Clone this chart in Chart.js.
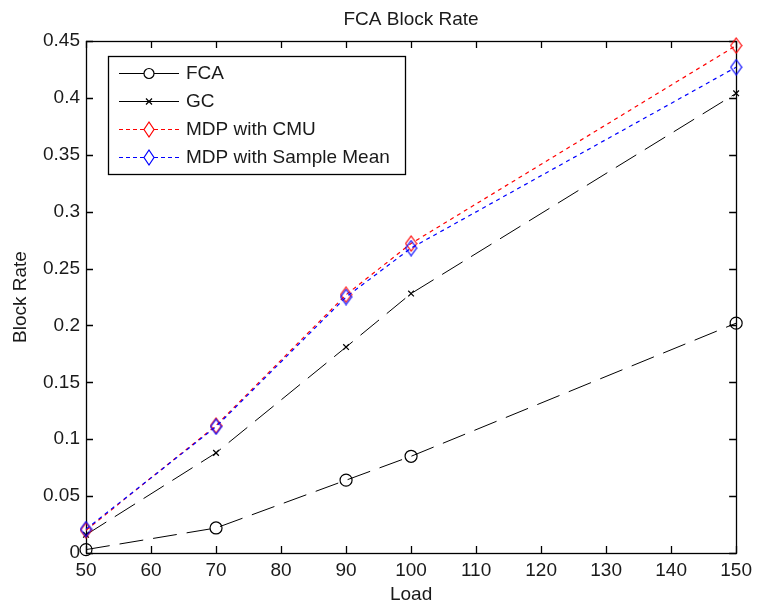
<!DOCTYPE html>
<html>
<head>
<meta charset="utf-8">
<script src="https://cdn.jsdelivr.net/npm/chart.js@4.4.1/dist/chart.umd.min.js"></script>
<style>
  html, body { margin: 0; padding: 0; background: #ffffff; }
  #wrap { width: 758px; height: 610px; }
</style>
</head>
<body>
<div id="wrap"><canvas id="c" width="758" height="610"></canvas></div>
<script>
// ---- data ----
const loads = [50, 70, 90, 100, 150];
const fcaRate = [0.003, 0.022, 0.064, 0.085, 0.202];
const gcRate = [0.016, 0.088, 0.181, 0.228, 0.404];
const mdpCmuRate = [0.020, 0.112, 0.227, 0.272, 0.446];
const mdpSampleMeanRate = [0.021, 0.111, 0.225, 0.268, 0.427];
const seriesNames = ['FCA', 'GC', 'MDP with CMU', 'MDP with Sample Mean'];
const xTickLabels = ['50', '60', '70', '80', '90', '100', '110', '120', '130', '140', '150'];
const yTickLabels = ['0', '0.05', '0.1', '0.15', '0.2', '0.25', '0.3', '0.35', '0.4', '0.45'];
const chartTitle = 'FCA Block Rate';
const xTitle = 'Load';
const yTitle = 'Block Rate';

const FONT = '"Liberation Sans", Arial, sans-serif';
const FS = 19;
const TXT = '#1a1a1a';

function diamond(color) {
  const w = 13, h = 17;
  const c = document.createElement('canvas');
  c.width = w; c.height = h;
  const g = c.getContext('2d');
  g.strokeStyle = color; g.lineWidth = 1.2;
  g.beginPath();
  g.moveTo(w / 2, 1); g.lineTo(w - 1, h / 2); g.lineTo(w / 2, h - 1); g.lineTo(1, h / 2); g.closePath();
  g.stroke();
  return c;
}
const redDiamond = diamond('#ff0000');
const blueDiamond = diamond('#0000ff');

const pts = arr => loads.map((x, i) => ({ x: x, y: arr[i] }));

const datasets = [
  { label: seriesNames[0], data: pts(fcaRate), borderColor: '#000000', borderWidth: 1, borderDash: [24, 10],
    pointStyle: 'circle', pointRadius: 6, pointBorderColor: '#000000', pointBackgroundColor: 'rgba(0,0,0,0)', pointBorderWidth: 1.2, order: 3 },
  { label: seriesNames[1], data: pts(gcRate), borderColor: '#000000', borderWidth: 1, borderDash: [24, 10],
    pointStyle: 'crossRot', pointRadius: 4, pointBorderColor: '#000000', pointBorderWidth: 1.2, order: 2 },
  { label: seriesNames[2], data: pts(mdpCmuRate), borderColor: '#ff0000', borderWidth: 1.2, borderDash: [4, 4],
    pointStyle: redDiamond, pointRadius: 7, order: 1 },
  { label: seriesNames[3], data: pts(mdpSampleMeanRate), borderColor: '#0000ff', borderWidth: 1.2, borderDash: [4, 4],
    pointStyle: blueDiamond, pointRadius: 7, order: 0 }
];
datasets.forEach(d => { d.fill = false; d.tension = 0; d.clip = false; d.pointHoverRadius = d.pointRadius; });

const legendMarkers = [
  { type: 'circle', color: '#000000', dash: [] },
  { type: 'cross', color: '#000000', dash: [] },
  { type: 'diamond', color: '#ff0000', dash: [4, 3] },
  { type: 'diamond', color: '#0000ff', dash: [4, 3] }
];

const framePlugin = {
  id: 'frame',
  beforeDatasetsDraw(chart) {
    const { ctx, chartArea: a, scales } = chart;
    ctx.save();
    ctx.strokeStyle = '#000000';
    ctx.lineWidth = 1.3;
    ctx.setLineDash([]);
    ctx.strokeRect(Math.round(a.left) + 0.5, Math.round(a.top) + 0.5, Math.round(a.right - a.left), Math.round(a.bottom - a.top));
    const tl = 7;
    ctx.beginPath();
    scales.x.ticks.forEach(t => {
      const x = Math.round(scales.x.getPixelForValue(t.value)) + 0.5;
      ctx.moveTo(x, a.bottom); ctx.lineTo(x, a.bottom - tl);
      ctx.moveTo(x, a.top); ctx.lineTo(x, a.top + tl);
    });
    scales.y.ticks.forEach(t => {
      const y = Math.round(scales.y.getPixelForValue(t.value)) + 0.5;
      ctx.moveTo(a.left, y); ctx.lineTo(a.left + tl, y);
      ctx.moveTo(a.right, y); ctx.lineTo(a.right - tl, y);
    });
    ctx.stroke();

    // title
    ctx.fillStyle = TXT;
    ctx.font = FS + 'px ' + FONT;
    ctx.textAlign = 'center';
    ctx.textBaseline = 'alphabetic';
    ctx.fillText(chartTitle, (a.left + a.right) / 2, 25);
    ctx.restore();
  },
  afterDatasetsDraw(chart) {
    const { ctx, chartArea: a } = chart;
    ctx.save();
    // legend
    const bx = a.left + 22, by = a.top + 15, bw = 297, bh = 118;
    ctx.fillStyle = '#ffffff';
    ctx.fillRect(bx, by, bw, bh);
    ctx.strokeStyle = '#000000';
    ctx.lineWidth = 1.3;
    ctx.strokeRect(bx + 0.5, by + 0.5, bw, bh);
    const rowH = 28;
    chart.data.datasets.forEach((d, i) => {
      const m = legendMarkers[i];
      const cy = by + 17 + i * rowH;
      const x0 = bx + 11, x1 = bx + 71, xm = (x0 + x1) / 2;
      ctx.strokeStyle = m.color;
      ctx.lineWidth = 1.2;
      ctx.setLineDash(m.dash);
      ctx.beginPath(); ctx.moveTo(x0, cy + 0.5); ctx.lineTo(x1, cy + 0.5); ctx.stroke();
      ctx.setLineDash([]);
      if (m.type === 'circle') {
        ctx.fillStyle = '#ffffff';
        ctx.beginPath(); ctx.arc(xm, cy + 0.5, 5, 0, Math.PI * 2); ctx.fill(); ctx.stroke();
      } else if (m.type === 'cross') {
        ctx.beginPath();
        ctx.moveTo(xm - 3, cy - 2.5); ctx.lineTo(xm + 3, cy + 3.5);
        ctx.moveTo(xm + 3, cy - 2.5); ctx.lineTo(xm - 3, cy + 3.5);
        ctx.stroke();
      } else {
        ctx.fillStyle = '#ffffff';
        ctx.beginPath();
        ctx.moveTo(xm, cy - 7); ctx.lineTo(xm + 5, cy + 0.5); ctx.lineTo(xm, cy + 8); ctx.lineTo(xm - 5, cy + 0.5); ctx.closePath();
        ctx.fill(); ctx.stroke();
      }
      ctx.fillStyle = TXT;
      ctx.font = FS + 'px ' + FONT;
      ctx.textAlign = 'left';
      ctx.textBaseline = 'middle';
      ctx.fillText(d.label, bx + 78, cy + 1);
    });
    ctx.restore();
  }
};

new Chart(document.getElementById('c'), {
  type: 'line',
  data: { datasets: datasets },
  plugins: [framePlugin],
  options: {
    responsive: false,
    animation: false,
    devicePixelRatio: 1,
    layout: { padding: { top: 41, right: 21, left: 0, bottom: 0 } },
    plugins: { legend: { display: false }, title: { display: false }, tooltip: { enabled: false } },
    scales: {
      x: {
        type: 'linear', min: 50, max: 150,
        border: { display: false },
        grid: { display: false, drawTicks: false },
        ticks: { stepSize: 10, padding: 6, color: TXT, font: { family: FONT, size: FS },
          maxRotation: 0, autoSkip: false,
          callback: (v, i) => xTickLabels[i] },
        title: { display: true, text: xTitle, color: TXT, font: { family: FONT, size: FS }, padding: { top: 0, bottom: 4 } },
        afterFit: s => { s.height = 57; }
      },
      y: {
        type: 'linear', min: 0, max: 0.45,
        border: { display: false },
        grid: { display: false, drawTicks: false },
        ticks: { stepSize: 0.05, padding: 6, color: TXT, font: { family: FONT, size: FS },
          autoSkip: false,
          callback: (v, i) => yTickLabels[i] },
        title: { display: true, text: yTitle, color: TXT, font: { family: FONT, size: FS }, padding: { top: 9, bottom: 0 } },
        afterFit: s => { s.width = 86; }
      }
    }
  }
});
</script>
</body>
</html>
